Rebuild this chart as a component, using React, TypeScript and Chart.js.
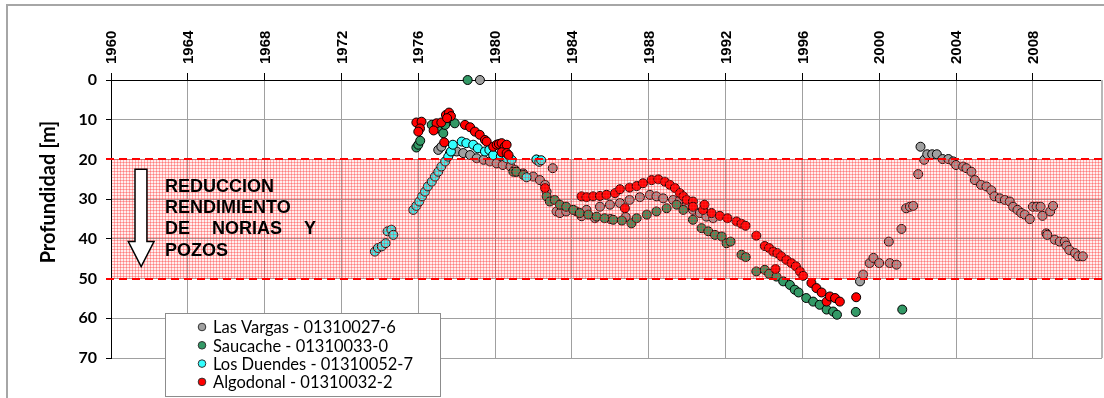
import { useEffect, useRef } from 'react';
import { Chart, registerables } from 'chart.js';
Chart.register(...registerables);

// ---------- data (year, depth in m) ----------
const seriesNames = [
  'Las Vargas - 01310027-6',
  'Saucache - 01310033-0',
  'Los Duendes - 01310052-7',
  'Algodonal - 01310032-2',
];
const seriesColors = ['#a0a0a0', '#339966', '#33ffff', '#ff0000'];

const lasVargas: [number, number][] = [
  [1979.21, 0],
  [1977.04, 17.6], [1977.2, 16.8], [1977.65, 18.4], [1978.0, 18.0], [1978.34, 18.4], [1978.7, 18.9],
  [1979.04, 19.7], [1979.4, 20.1], [1979.73, 20.5], [1980.08, 21.0], [1980.4, 21.4], [1980.8, 21.8],
  [1981.03, 22.6], [1981.1, 23.1], [1981.46, 23.5], [1981.98, 24.3], [1982.33, 25.2], [1982.6, 26.4],
  [1982.68, 28.1], [1983.0, 22.2],
  [1983.2, 33.1], [1983.37, 33.5], [1983.7, 33.1], [1984.24, 33.1], [1984.5, 34.3], [1984.76, 32.7],
  [1985.2, 34.8], [1985.46, 31.9], [1985.98, 31.4], [1986.0, 35.0], [1986.5, 31.0], [1986.8, 34.5],
  [1987.0, 30.2], [1987.54, 29.5], [1988.06, 28.9], [1988.4, 29.3], [1988.75, 29.8], [1989.27, 30.2],
  [1989.62, 30.2], [1989.97, 31.4], [1990.3, 32.7], [1990.66, 33.5], [1991.0, 34.4], [1991.35, 34.8],
  [1999.0, 50.7], [1999.16, 49.0], [1999.5, 46.1], [1999.7, 44.8], [2000.0, 46.1], [2000.5, 40.7],
  [2000.55, 46.1], [2000.9, 46.5], [2001.16, 37.5], [2001.4, 32.3], [2001.6, 31.9], [2001.77, 31.7],
  [2002.03, 23.7], [2002.15, 16.8], [2002.34, 20.1], [2002.5, 18.7], [2002.76, 18.7], [2003.0, 18.7],
  [2003.3, 19.9], [2003.6, 19.9], [2003.85, 20.5], [2004.0, 21.4], [2004.37, 21.8], [2004.54, 22.2],
  [2004.8, 23.1], [2004.98, 25.2], [2005.3, 26.4], [2005.58, 26.8], [2005.84, 27.8], [2006.0, 29.3],
  [2006.28, 29.8], [2006.54, 30.2], [2006.8, 30.6], [2006.97, 31.9], [2007.2, 32.7], [2007.4, 33.5],
  [2007.58, 33.9], [2007.84, 35.0], [2008.0, 31.9], [2008.2, 31.9], [2008.4, 31.9], [2008.5, 34.2],
  [2008.7, 38.6], [2008.75, 39.0], [2008.9, 33.1], [2009.05, 31.7], [2009.14, 40.2], [2009.4, 40.7],
  [2009.66, 40.7], [2009.75, 41.7], [2009.9, 42.8], [2010.2, 43.6], [2010.36, 44.4], [2010.6, 44.4],
];

const saucache: [number, number][] = [
  [1978.57, 0],
  [1975.9, 17.0], [1976.0, 16.3], [1976.1, 15.3], [1976.7, 11.3], [1977.0, 12.2], [1977.3, 13.4],
  [1977.4, 11.3], [1977.56, 9.6], [1977.9, 10.9], [1980.95, 23.1], [1981.1, 23.1], [1981.47, 23.9],
  [1982.16, 20.1],
  [1982.68, 29.3], [1982.85, 30.6], [1983.1, 30.2], [1983.37, 31.4], [1983.7, 31.9], [1984.07, 32.7],
  [1984.41, 33.5], [1984.85, 33.9], [1985.28, 34.4], [1985.7, 34.8], [1986.15, 35.2], [1986.6, 35.4],
  [1987.1, 36.1], [1987.37, 34.8], [1987.9, 33.9], [1988.4, 33.1], [1988.93, 32.3], [1989.45, 31.4],
  [1989.8, 32.7], [1990.3, 35.2], [1990.75, 37.3], [1991.1, 38.1], [1991.45, 39.0], [1991.8, 39.4],
  [1992.05, 41.1], [1992.26, 40.7], [1992.83, 44.0], [1993.05, 44.6], [1993.6, 48.2], [1994.04, 47.8],
  [1994.27, 48.8], [1994.65, 49.5], [1995.0, 50.7], [1995.35, 51.6], [1995.6, 52.8], [1995.8, 53.5],
  [1996.2, 54.9], [1996.56, 55.8], [1996.9, 56.6], [1997.26, 57.8], [1997.6, 58.3], [1997.8, 59.1],
  [1998.78, 58.4], [2001.2, 57.8],
];

const losDuendes: [number, number][] = [
  [1973.74, 43.2], [1973.9, 42.3], [1974.1, 41.9], [1974.3, 41.1], [1974.4, 38.1], [1974.6, 37.7],
  [1974.7, 39.0], [1975.74, 32.7], [1975.9, 31.7], [1976.05, 30.6], [1976.2, 29.3], [1976.35, 28.1],
  [1976.5, 26.8], [1976.7, 25.6], [1976.87, 24.3], [1977.04, 23.1], [1977.2, 21.8], [1977.4, 20.5],
  [1977.56, 19.3], [1977.7, 18.0], [1977.8, 16.3], [1978.26, 15.5], [1978.5, 15.9], [1978.86, 16.3],
  [1979.1, 17.2], [1979.47, 18.0], [1979.7, 17.6], [1979.9, 18.9], [1980.3, 19.2], [1980.6, 19.7],
  [1980.86, 20.1], [1981.64, 24.5], [1982.15, 20.0], [1982.3, 20.6], [1982.4, 20.2],
];

const algodonal: [number, number][] = [
  [1975.9, 10.7], [1976.17, 10.5], [1976.09, 12.2], [1976.0, 13.0], [1976.95, 10.9], [1976.8, 12.7],
  [1977.2, 10.7], [1977.44, 8.8], [1977.6, 8.2], [1977.7, 9.1], [1977.5, 9.6], [1977.35, 15.7],
  [1978.43, 11.3], [1978.7, 11.9], [1978.95, 13.0], [1979.2, 13.8], [1979.47, 15.1], [1979.56, 15.5],
  [1979.9, 16.8], [1980.08, 16.3], [1980.2, 16.1], [1980.34, 15.9], [1980.5, 16.8], [1980.6, 16.3],
  [1980.34, 18.2], [1980.6, 18.4], [1980.7, 18.9], [1982.6, 27.2],
  [1984.5, 29.3], [1984.76, 29.5], [1985.1, 29.3], [1985.46, 29.2], [1985.8, 28.9], [1986.24, 28.5],
  [1986.5, 27.5], [1986.76, 32.3], [1987.0, 27.1], [1987.37, 26.7], [1987.7, 26.0], [1988.15, 25.2],
  [1988.5, 25.0], [1988.84, 25.6], [1989.1, 26.4], [1989.36, 27.2], [1989.62, 28.5], [1989.8, 29.3],
  [1989.97, 30.2], [1990.3, 30.6], [1990.3, 31.9], [1990.83, 32.7], [1990.9, 31.4], [1991.27, 33.5],
  [1991.7, 34.2], [1992.1, 34.8], [1992.57, 35.6], [1992.83, 36.2], [1993.04, 36.7], [1993.6, 39.2],
  [1994.04, 41.8], [1994.27, 42.3], [1994.48, 43.2], [1994.6, 47.6], [1994.7, 43.6], [1994.9, 44.4],
  [1995.17, 45.3], [1995.43, 46.1], [1995.66, 46.9], [1995.87, 48.2], [1996.04, 49.3], [1996.47, 51.1],
  [1996.73, 52.4], [1997.0, 53.5], [1997.26, 55.8], [1997.43, 54.5], [1997.7, 54.9], [1997.95, 55.8],
  [1998.8, 54.7],
];

const xMin = 1960;
const xMax = 2011.6;
const xStep = 4;
const yMin = 0;
const yMax = 70;
const yStep = 10;

const bandTop = 20;
const bandBottom = 50;

const yTitle = 'Profundidad [m]';
const noteLines = ['REDUCCION', 'RENDIMIENTO', 'DE NORIAS Y', 'POZOS'];
// annotation anchor in data units
const noteLeftYear = 1962.81;
const noteRightYear = 1970.67;
const noteBaselines = [28.2, 33.45, 38.9, 44.3];
const arrowShaft = [1961.25, 1961.87];
const arrowHead = [1960.9, 1962.24];
const arrowTopDepth = 22.46;
const arrowHeadDepth = 40.67;
const arrowTipDepth = 46.96;

const allSeries = [lasVargas, saucache, losDuendes, algodonal];

export default function App() {
  const ref = useRef<HTMLCanvasElement | null>(null);
  useEffect(() => {
    const canvas = ref.current;
    if (!canvas) return;

    const decor = {
      id: 'decor',
      beforeDraw(chart: any) {
        const ctx = chart.ctx;
        ctx.save();
        ctx.fillStyle = '#ffffff';
        ctx.fillRect(0, 0, chart.width, chart.height);
        ctx.strokeStyle = '#a6a6a6';
        ctx.lineWidth = 2;
        ctx.beginPath();
        ctx.moveTo(7, chart.height);
        ctx.lineTo(7, 5);
        ctx.lineTo(chart.width, 5);
        ctx.stroke();
        ctx.restore();
      },
      afterDatasetsDraw(chart: any) {
        const { ctx, chartArea } = chart;
        const x = chart.scales.x;
        const y = chart.scales.y;
        ctx.save();
        // right edge of plot area
        ctx.strokeStyle = '#b8b8b8';
        ctx.lineWidth = 2;
        ctx.beginPath();
        ctx.moveTo(chartArea.right, chartArea.top);
        ctx.lineTo(chartArea.right, chartArea.bottom);
        ctx.stroke();

        const yT = Math.round(y.getPixelForValue(bandTop));
        const yB = Math.round(y.getPixelForValue(bandBottom));
        const pc = document.createElement('canvas');
        pc.width = 3;
        pc.height = 3;
        const p = pc.getContext('2d')!;
        p.fillStyle = 'rgba(255,80,80,0.09)';
        p.fillRect(0, 0, 3, 3);
        p.fillStyle = 'rgba(255,40,40,0.34)';
        p.fillRect(0, 0, 3, 1);
        p.fillRect(0, 0, 1, 3);
        const pat = ctx.createPattern(pc, 'repeat');
        ctx.fillStyle = pat;
        ctx.fillRect(chartArea.left + 1, yT, chartArea.right - chartArea.left - 1, yB - yT);

        ctx.strokeStyle = '#ff0000';
        ctx.lineWidth = 2;
        ctx.setLineDash([8, 5]);
        for (const yy of [yT, yB]) {
          ctx.beginPath();
          ctx.moveTo(chartArea.left - 5, yy);
          ctx.lineTo(chartArea.right, yy);
          ctx.stroke();
        }
        ctx.setLineDash([]);

        // arrow
        const sx0 = x.getPixelForValue(arrowShaft[0]);
        const sx1 = x.getPixelForValue(arrowShaft[1]);
        const hx0 = x.getPixelForValue(arrowHead[0]);
        const hx1 = x.getPixelForValue(arrowHead[1]);
        const tipX = (hx0 + hx1) / 2;
        const ty = y.getPixelForValue(arrowTopDepth);
        const hy = y.getPixelForValue(arrowHeadDepth);
        const tipY = y.getPixelForValue(arrowTipDepth);
        ctx.beginPath();
        ctx.moveTo(sx0, ty);
        ctx.lineTo(sx1, ty);
        ctx.lineTo(sx1, hy);
        ctx.lineTo(hx1, hy);
        ctx.lineTo(tipX, tipY);
        ctx.lineTo(hx0, hy);
        ctx.lineTo(sx0, hy);
        ctx.closePath();
        ctx.fillStyle = '#ffffff';
        ctx.fill();
        ctx.strokeStyle = '#000000';
        ctx.lineWidth = 1.5;
        ctx.stroke();

        // note text
        ctx.fillStyle = '#000000';
        ctx.font = 'bold 18px "Liberation Sans", Arial, sans-serif';
        ctx.textBaseline = 'alphabetic';
        ctx.textAlign = 'left';
        const lx = x.getPixelForValue(noteLeftYear);
        const rx = x.getPixelForValue(noteRightYear);
        noteLines.forEach((line, i) => {
          const by = y.getPixelForValue(noteBaselines[i]);
          const words = line.split(' ');
          if (i === 2 && words.length > 1) {
            const total = words.reduce((s, w) => s + ctx.measureText(w).width, 0);
            const gap = (rx - lx - total) / (words.length - 1);
            let cx = lx;
            for (const w of words) {
              ctx.fillText(w, cx, by);
              cx += ctx.measureText(w).width + gap;
            }
          } else {
            ctx.fillText(line, lx, by);
          }
        });
        ctx.restore();
      },
      afterDraw(chart: any) {
        const ctx = chart.ctx;
        const x = chart.scales.x;
        const ca = chart.chartArea;

        // x tick labels (rotated, reading bottom-to-top, centred on ticks)
        ctx.save();
        ctx.font = 'bold 15px "Liberation Sans", Arial, sans-serif';
        ctx.fillStyle = '#000';
        ctx.textAlign = 'left';
        ctx.textBaseline = 'middle';
        for (const t of x.ticks) {
          const px = x.getPixelForValue(t.value);
          ctx.save();
          ctx.translate(px + 1, ca.top - 16);
          ctx.rotate(-Math.PI / 2);
          ctx.fillText(String(t.value), 0, 0);
          ctx.restore();
        }
        ctx.restore();

        // y title
        ctx.save();
        ctx.translate(49, 192);
        ctx.rotate(-Math.PI / 2);
        ctx.font = 'bold 20px Lato, sans-serif';
        ctx.fillStyle = '#000';
        ctx.textAlign = 'center';
        ctx.textBaseline = 'middle';
        ctx.fillText(yTitle, 0, 0);
        ctx.restore();

        // legend
        ctx.save();
        const bx = 165, by = 313, bw = 275, bh = 83;
        ctx.fillStyle = '#ffffff';
        ctx.fillRect(bx, by, bw, bh);
        ctx.strokeStyle = '#8c8c8c';
        ctx.lineWidth = 1;
        ctx.strokeRect(bx + 0.5, by + 0.5, bw, bh);
        ctx.font = '16.5px Lato, sans-serif';
        ctx.textBaseline = 'middle';
        ctx.textAlign = 'left';
        seriesNames.forEach((name, i) => {
          const cy = 327 + i * 18.3;
          ctx.beginPath();
          ctx.arc(202, cy, 3.8, 0, Math.PI * 2);
          ctx.fillStyle = seriesColors[i];
          ctx.fill();
          ctx.strokeStyle = '#333';
          ctx.lineWidth = 1;
          ctx.stroke();
          ctx.fillStyle = '#000';
          ctx.fillText(name, 213, cy + 1);
        });
        ctx.restore();
      },
    };

    const chart = new Chart(canvas, {
      type: 'scatter',
      data: {
        datasets: allSeries.map((s, i) => ({
          label: seriesNames[i],
          data: s.map(([yr, d]) => ({ x: yr, y: d })),
          backgroundColor: seriesColors[i],
          borderColor: '#000000',
          borderWidth: 1,
          pointRadius: 4.5,
          pointHoverRadius: 4.5,
          order: allSeries.length - i,
          clip: false as any,
        })),
      },
      options: {
        animation: false,
        responsive: false,
        devicePixelRatio: 1,
        layout: { autoPadding: false, padding: { left: 0, right: 2, top: 0, bottom: 40 } },
        plugins: { legend: { display: false }, tooltip: { enabled: false } },
        scales: {
          x: {
            type: 'linear',
            position: 'top',
            min: xMin,
            max: xMax,
            afterFit: (s: any) => { s.height = 80; },
            ticks: {
              stepSize: xStep,
              includeBounds: false,
              display: false,
              callback: (v: any) => String(v),
            },
            grid: { color: '#a0a0a0', tickLength: 7, tickColor: '#000' },
            border: { color: '#000', width: 1 },
          },
          y: {
            type: 'linear',
            reverse: true,
            min: yMin,
            max: yMax,
            afterFit: (s: any) => { s.width = 111; },
            ticks: {
              stepSize: yStep,
              padding: 9,
              color: '#000',
              font: { family: 'Lato, sans-serif', weight: 'bold', size: 16 },
              callback: (v: any) => String(v),
            },
            grid: { color: '#a0a0a0', tickLength: 5, tickColor: '#000' },
            border: { color: '#000', width: 1 },
          },
        },
      },
      plugins: [decor],
    } as any);
    return () => chart.destroy();
  }, []);

  return (
    <div style={{ position: 'absolute', left: 0, top: 0, width: 1104, height: 398 }}>
      <canvas ref={ref} width={1104} height={398} />
    </div>
  );
}
